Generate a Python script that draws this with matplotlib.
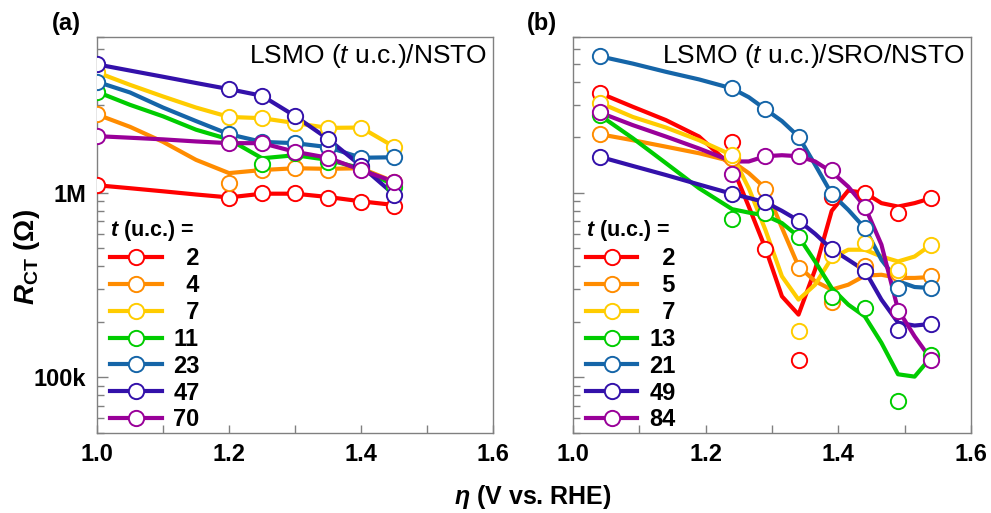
import matplotlib
matplotlib.use("Agg")
import matplotlib.pyplot as plt
from matplotlib.lines import Line2D
from matplotlib.ticker import LogLocator, MultipleLocator, FixedLocator, FixedFormatter, NullFormatter

plt.rcParams['font.family'] = ['Liberation Sans', 'DejaVu Sans']
plt.rcParams['mathtext.fontset'] = 'custom'
plt.rcParams['mathtext.rm'] = 'Liberation Sans'
plt.rcParams['mathtext.it'] = 'Liberation Sans:italic'
plt.rcParams['mathtext.bf'] = 'Liberation Sans:bold'
plt.rcParams['mathtext.bfit'] = 'Liberation Sans:italic:bold'

# ---- panel (a): LSMO/NSTO, measured points ----
eta_a = [1.0, 1.2, 1.25, 1.3, 1.35, 1.4, 1.45]
labels_a = ["2", "4", "7", "11", "23", "47", "70"]
a_2 = [1.105e6, 0.936e6, 0.996e6, 1.0e6, 0.943e6, 0.898e6, 0.854e6]
a_4 = [2.66e6, 1.13e6, 1.33e6, 1.37e6, 1.33e6, 1.36e6, 1.15e6]
a_7 = [4.5e6, 2.58e6, 2.54e6, 2.39e6, 2.25e6, 2.26e6, 1.78e6]
a_11 = [3.53e6, 1.89e6, 1.43e6, 1.64e6, 1.47e6, 1.36e6, 1.08e6]
a_23 = [4.0e6, 2.08e6, 1.89e6, 1.86e6, 1.77e6, 1.55e6, 1.56e6]
a_47 = [4.97e6, 3.65e6, 3.36e6, 2.61e6, 1.96e6, 1.40e6, 0.98e6]
a_70 = [2.03e6, 1.86e6, 1.86e6, 1.67e6, 1.55e6, 1.33e6, 1.15e6]

# guide curves (panel a)
fit_a = [1.0, 1.05, 1.1, 1.15, 1.2, 1.25, 1.3, 1.35, 1.4, 1.45]
fa_2 = [1.10e6, 1.06e6, 1.02e6, 0.98e6, 0.945e6, 0.99e6, 0.99e6, 0.95e6, 0.90e6, 0.86e6]
fa_4 = [2.66e6, 2.28e6, 1.89e6, 1.51e6, 1.28e6, 1.33e6, 1.36e6, 1.35e6, 1.36e6, 1.15e6]
fa_7 = [4.5e6, 3.85e6, 3.33e6, 2.9e6, 2.58e6, 2.54e6, 2.39e6, 2.25e6, 2.26e6, 1.78e6]
fa_11 = [3.53e6, 3.0e6, 2.6e6, 2.2e6, 1.95e6, 1.54e6, 1.60e6, 1.51e6, 1.36e6, 1.1e6]
fa_23 = [4.0e6, 3.5e6, 2.9e6, 2.45e6, 2.08e6, 1.89e6, 1.86e6, 1.77e6, 1.55e6, 1.56e6]
fa_47 = [4.97e6, 4.6e6, 4.26e6, 3.94e6, 3.65e6, 3.36e6, 2.61e6, 1.96e6, 1.40e6, 0.98e6]
fa_70 = [2.03e6, 1.99e6, 1.95e6, 1.9e6, 1.86e6, 1.86e6, 1.67e6, 1.55e6, 1.33e6, 1.15e6]

# ---- panel (b): LSMO/SRO/NSTO, measured points ----
eta_b = [1.04, 1.24, 1.29, 1.34, 1.39, 1.44, 1.49, 1.54]
labels_b = ["2", "5", "7", "13", "21", "49", "84"]
b_2 = [3.48e6, 1.89e6, 4.97e5, 1.24e5, 9.5e5, 1.0e6, 7.82e5, 9.36e5]
b_5 = [2.08e6, 1.55e6, 1.05e6, 3.92e5, 2.55e5, 4.0e5, 3.7e5, 3.56e5]
b_7 = [3.08e6, 1.60e6, 7.8e5, 1.78e5, 4.6e5, 5.35e5, 3.8e5, 5.23e5]
b_13 = [2.64e6, 7.21e5, 7.82e5, 5.8e5, 2.73e5, 2.38e5, 7.45e4, 1.33e5]
b_21 = [5.5e6, 3.68e6, 2.84e6, 2.01e6, 9.88e5, 6.44e5, 3.05e5, 3.05e5]
b_49 = [1.57e6, 9.88e5, 8.9e5, 7.08e5, 4.96e5, 3.79e5, 1.8e5, 1.95e5]
b_84 = [2.73e6, 1.27e6, 1.59e6, 1.58e6, 1.33e6, 8.37e5, 2.28e5, 1.25e5]

# guide curves (panel b)
fit_b = [1.04, 1.09, 1.14, 1.19, 1.24, 1.265, 1.29, 1.315, 1.34, 1.365,
         1.39, 1.415, 1.44, 1.465, 1.49, 1.515, 1.54]
fb_2 = [3.48e6, 2.93e6, 2.48e6, 2.02e6, 1.39e6, 8.43e5, 5.02e5, 2.75e5, 2.19e5, 3.84e5,
        7.99e5, 1.03e6, 1.0e6, 8.8e5, 8.43e5, 8.8e5, 9.36e5]
fb_5 = [2.08e6, 1.93e6, 1.78e6, 1.64e6, 1.48e6, 1.28e6, 1.06e6, 6.47e5, 4.0e5, 3.32e5,
        2.99e5, 3.18e5, 3.56e5, 3.6e5, 3.46e5, 3.46e5, 3.5e5]
fb_7 = [3.08e6, 2.58e6, 2.26e6, 1.93e6, 1.60e6, 1.06e6, 6.31e5, 3.53e5, 2.64e5, 3.18e5,
        4.44e5, 4.92e5, 4.92e5, 4.52e5, 4.25e5, 4.52e5, 5.24e5]
fb_13 = [2.64e6, 1.98e6, 1.45e6, 1.06e6, 8.16e5, 7.82e5, 7.54e5, 6.86e5, 5.8e5, 4.25e5,
         3.05e5, 2.48e5, 2.14e5, 1.54e5, 1.04e5, 1.01e5, 1.29e5]
fb_21 = [5.5e6, 5.02e6, 4.53e6, 4.12e6, 3.68e6, 3.3e6, 2.84e6, 2.45e6, 2.02e6, 1.42e6,
         9.88e5, 8.09e5, 6.44e5, 4.34e5, 3.32e5, 3.09e5, 3.05e5]
fb_49 = [1.57e6, 1.40e6, 1.25e6, 1.11e6, 9.88e5, 9.39e5, 8.9e5, 7.99e5, 7.08e5, 6.0e5,
         4.96e5, 4.34e5, 3.79e5, 2.64e5, 1.98e5, 1.91e5, 1.95e5]
fb_84 = [2.73e6, 2.33e6, 2.02e6, 1.74e6, 1.48e6, 1.48e6, 1.58e6, 1.60e6, 1.58e6, 1.48e6,
         1.30e6, 1.08e6, 8.43e5, 5.24e5, 2.33e5, 1.67e5, 1.25e5]

colors = ["#ff0000", "#ff8c00", "#ffcc00", "#00cc00", "#1565a8", "#3311aa", "#990099"]

fig = plt.figure(figsize=(9.91, 5.13), dpi=100)
ax_a = fig.add_axes([0.0979, 0.156, 0.3996, 0.772])
ax_b = fig.add_axes([0.5782, 0.156, 0.4016, 0.772])

panels = [
    (ax_a, eta_a, [a_2, a_4, a_7, a_11, a_23, a_47, a_70],
     fit_a, [fa_2, fa_4, fa_7, fa_11, fa_23, fa_47, fa_70], labels_a,
     r"LSMO ($\mathit{t}$ u.c.)/NSTO", "(a)"),
    (ax_b, eta_b, [b_2, b_5, b_7, b_13, b_21, b_49, b_84],
     fit_b, [fb_2, fb_5, fb_7, fb_13, fb_21, fb_49, fb_84], labels_b,
     r"LSMO ($\mathit{t}$ u.c.)/SRO/NSTO", "(b)"),
]

for ax, x, ys, xf, yfs, labs, name, tag in panels:
    handles = []
    for y, yf, c, lab in zip(ys, yfs, colors, labs):
        ax.plot(xf, yf, color=c, lw=3.0, solid_capstyle='round',
                solid_joinstyle='round', zorder=2)
        ax.plot(x, y, 'o', ms=11, mfc='white', mec=c, mew=1.4, zorder=3)
        pad = "  " if len(lab) == 1 else ""
        handles.append(Line2D([], [], color=c, lw=3.0, marker='o', ms=11,
                              mfc='white', mec=c, mew=1.4, label=pad + lab))

    ax.set_yscale('log')
    ax.set_xlim(1.0, 1.6)
    ax.set_ylim(5e4, 7e6)
    ax.xaxis.set_major_locator(MultipleLocator(0.2))
    ax.xaxis.set_minor_locator(MultipleLocator(0.1))
    ax.yaxis.set_major_locator(FixedLocator([1e5, 1e6]))
    ax.yaxis.set_minor_locator(LogLocator(base=10, subs=range(2, 10)))
    ax.yaxis.set_minor_formatter(NullFormatter())
    if ax is ax_a:
        ax.yaxis.set_major_formatter(FixedFormatter(["100k", "1M"]))
    else:
        ax.yaxis.set_major_formatter(NullFormatter())
    ax.xaxis.set_major_formatter(plt.FuncFormatter(lambda v, p: f"{v:.1f}"))

    ax.tick_params(which='both', direction='in', top=False, right=False,
                   color='#808080', width=1.0)
    ax.tick_params(axis='y', which='major', length=8, pad=8)
    ax.tick_params(axis='y', which='minor', length=5)
    ax.tick_params(axis='x', which='both', length=6, pad=7)
    for t in ax.get_xticklabels() + ax.get_yticklabels():
        t.set_fontsize(17)
        t.set_fontweight('bold')
    for s in ax.spines.values():
        s.set_color('#808080')
        s.set_linewidth(1.0)

    ax.text(0.985, 0.952, name, transform=ax.transAxes, ha='right', va='center',
            fontsize=19)
    ax.text(-0.115, 1.035, tag, transform=ax.transAxes, ha='left', va='center',
            fontsize=17, fontweight='bold')

    leg = ax.legend(handles=handles, loc='lower left', bbox_to_anchor=(-0.01, -0.038),
                    frameon=False, fontsize=17, handlelength=2.2, handletextpad=0.5,
                    labelspacing=0.165, borderaxespad=0.3,
                    title=r"$\mathbfit{t}$ (u.c.) =",
                    title_fontproperties={'size': 15.5, 'weight': 'bold'})
    leg._legend_box.align = "left"
    for t in leg.get_texts():
        t.set_fontweight('bold')

fig.text(0.027, 0.5, r"$\mathbfit{R}_{\mathbf{CT}}$ ($\mathbf{\Omega}$)", rotation=90,
         ha='center', va='center', fontsize=20, fontweight='bold')
fig.text(0.538, 0.032, r"$\mathbfit{\eta}$ (V vs. RHE)", ha='center', va='center',
         fontsize=18, fontweight='bold')

fig.savefig("out.png", dpi=100)
